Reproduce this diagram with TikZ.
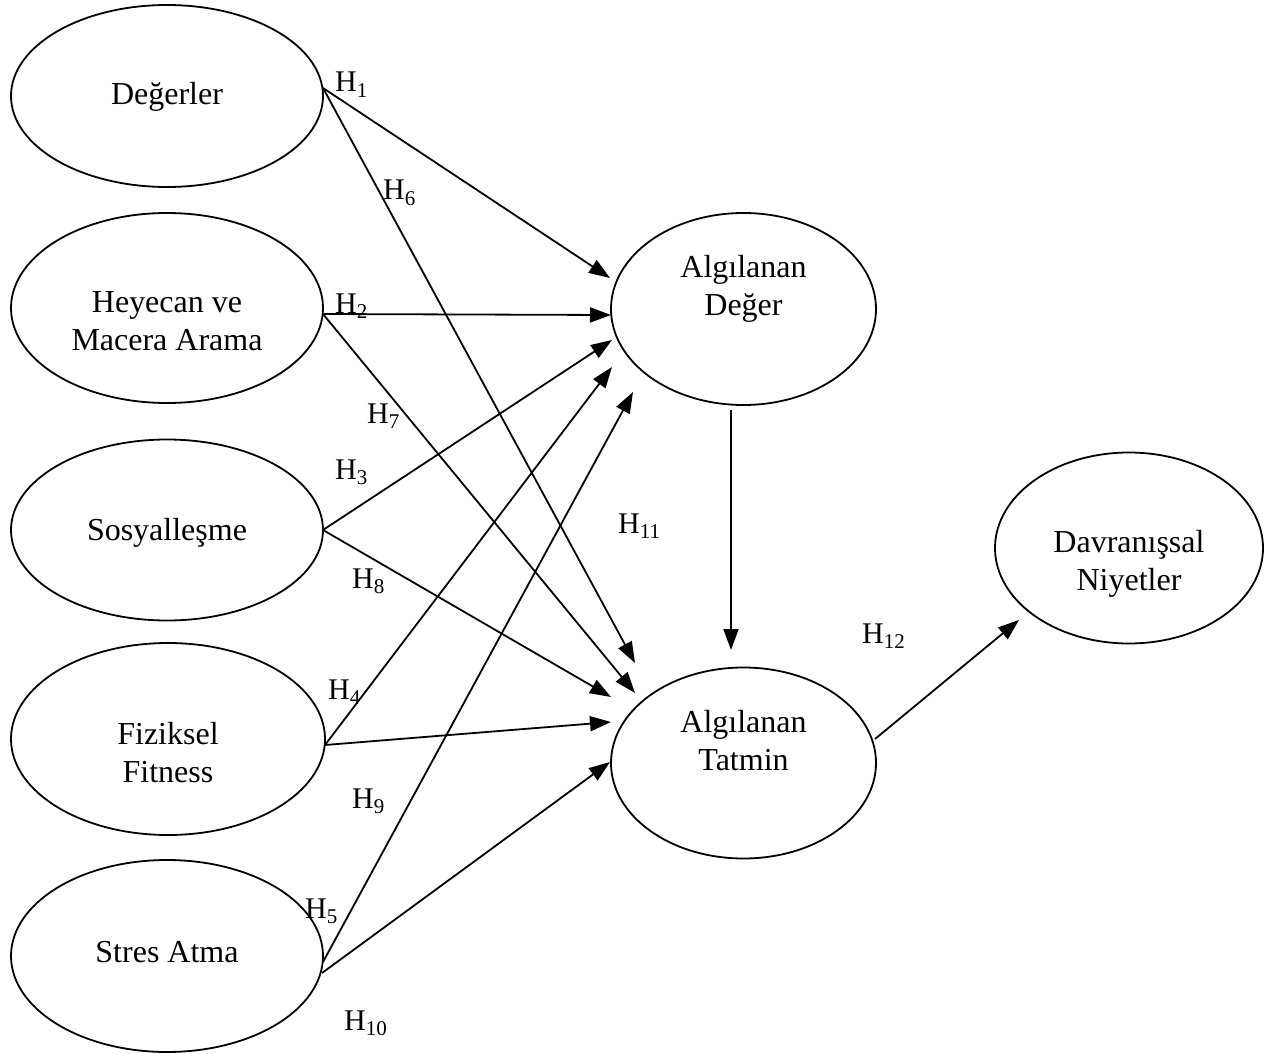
\documentclass[tikz,border=0pt]{standalone}
\usepackage{fontspec}
\setmainfont{Liberation Serif}
\usetikzlibrary{shapes.geometric,arrows.meta}
\newcommand\hyp[1]{H\textsubscript{#1}}
\begin{document}
\begin{tikzpicture}[x=1pt,y=-1pt,
  ell/.style={ellipse,draw,line width=1.8pt,inner sep=0pt,outer sep=0pt},
  txt/.style={font=\fontsize{32}{37.5}\selectfont,align=center,anchor=base,inner sep=0pt},
  lab/.style={font=\fontsize{30}{32}\selectfont,anchor=base west,inner sep=0pt},
  arr/.style={line width=1.8pt,-{Triangle[length=21pt,width=15pt]}}]
\useasboundingbox (0,0) rectangle (1267,1054);
% left ellipses
\node[ell,minimum width=312pt,minimum height=182pt] (deg) at (167,96) {};
\node[ell,minimum width=312pt,minimum height=190pt] (hey) at (167,308) {};
\node[ell,minimum width=312pt,minimum height=181pt] (sos) at (167,530) {};
\node[ell,minimum width=314pt,minimum height=192pt] (fiz) at (168,739) {};
\node[ell,minimum width=312pt,minimum height=192pt] (str) at (167,956) {};
% middle and right ellipses
\node[ell,minimum width=265pt,minimum height=192pt] (ad) at (743.5,309) {};
\node[ell,minimum width=265pt,minimum height=191pt] (at) at (743.5,763) {};
\node[ell,minimum width=268pt,minimum height=191pt] (dn) at (1129,548) {};
% texts (base anchor = last line baseline)
\node[txt] (degt) at (167,105) {Değerler};
\node[txt] (heyt) at (167,350) {Heyecan ve\\Macera Arama};
\node[txt] (sost) at (167,540) {Sosyalleşme};
\node[txt] (fizt) at (168,782) {Fiziksel\\Fitness};
\node[txt] (strt) at (167,962) {Stres Atma};
\node[txt] (adt) at (743.5,315) {Algılanan\\Değer};
\node[txt] (att) at (743.5,770) {Algılanan\\Tatmin};
\node[txt] (dnt) at (1129,590) {Davranışsal\\Niyetler};
% connectors to Algilanan Deger
\draw[arr] ([shift={(156,-8)}]deg.center) -- ([shift={(-133.5,-31)}]ad.center);
\draw[arr] ([shift={(156,6)}]hey.center) -- ([shift={(-132.5,6)}]ad.center);
\draw[arr] ([shift={(156,0)}]sos.center) -- ([shift={(-131.5,31)}]ad.center);
\draw[arr] ([shift={(157,6)}]fiz.center) -- ([shift={(-131.5,58)}]ad.center);
\draw[arr] ([shift={(156,6)}]str.center) -- ([shift={(-110.5,83)}]ad.center);
% connectors to Algilanan Tatmin
\draw[arr] ([shift={(156,-8)}]deg.center) -- ([shift={(-108.5,-100)}]at.center);
\draw[arr] ([shift={(156,6)}]hey.center) -- ([shift={(-108.5,-70)}]at.center);
\draw[arr] ([shift={(156,0)}]sos.center) -- ([shift={(-132.5,-66)}]at.center);
\draw[arr] ([shift={(157,6)}]fiz.center) -- ([shift={(-132.5,-41)}]at.center);
\draw[arr] ([shift={(155,17)}]str.center) -- ([shift={(-133.5,-1)}]at.center);
% deger -> tatmin, tatmin -> niyetler
\draw[arr] ([shift={(-12.5,101)}]ad.center) -- ([shift={(-12.5,-113)}]at.center);
\draw[arr] ([shift={(131.5,-24)}]at.center) -- ([shift={(-110,72)}]dn.center);
% labels
\node[lab] (l1) at (335,92) {\hyp{1}};
\node[lab] (l6) at (383,200) {\hyp{6}};
\node[lab] (l2) at (335,313) {\hyp{2}};
\node[lab] (l7) at (367,423) {\hyp{7}};
\node[lab] (l3) at (335,479) {\hyp{3}};
\node[lab] (l8) at (352,588) {\hyp{8}};
\node[lab] (l4) at (328,699) {\hyp{4}};
\node[lab] (l9) at (352,808) {\hyp{9}};
\node[lab] (l5) at (305,918) {\hyp{5}};
\node[lab] (l10) at (344,1030) {\hyp{10}};
\node[lab] (l11) at (618,533) {\hyp{11}};
\node[lab] (l12) at (862,643) {\hyp{12}};
\end{tikzpicture}
\end{document}
